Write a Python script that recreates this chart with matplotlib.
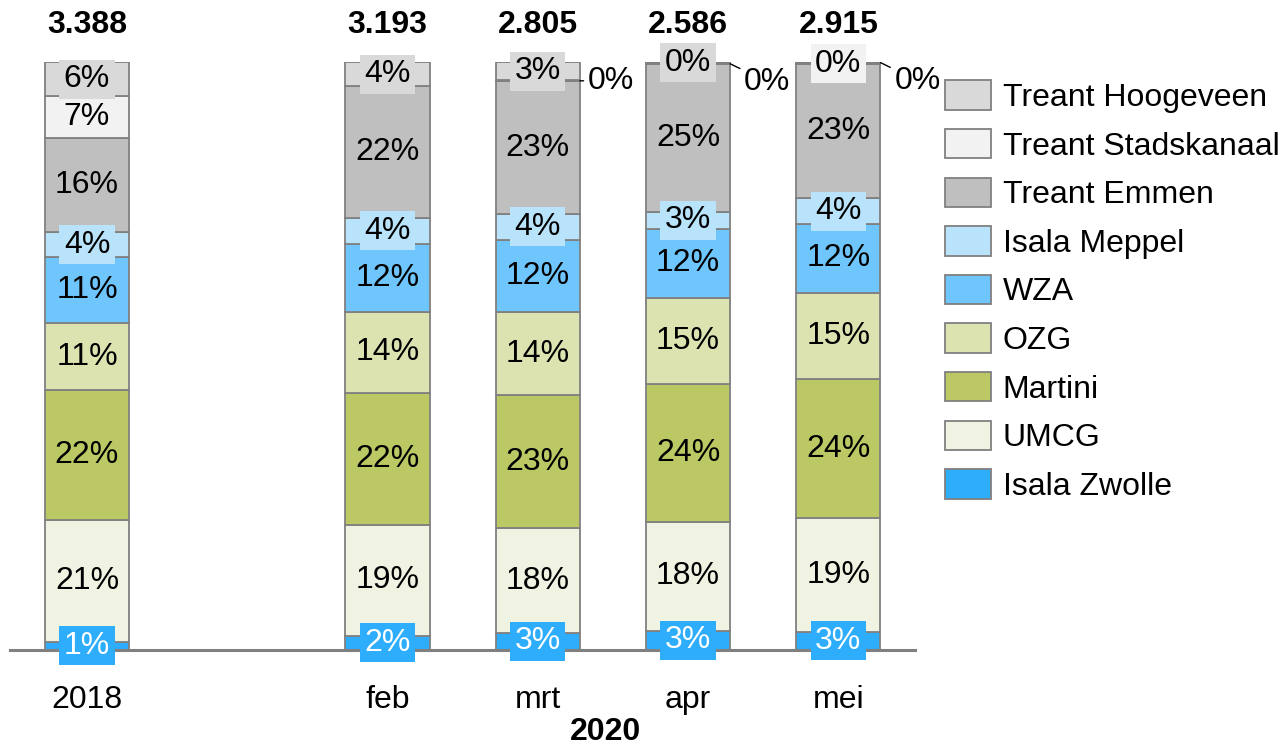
import matplotlib.pyplot as plt
import numpy as np

plt.rcParams['font.family'] = ['Liberation Sans', 'DejaVu Sans']

# data, bottom to top (percent of total per bar)
categories = ['2018', 'feb', 'mrt', 'apr', 'mei']
positions = [0, 2, 3, 4, 5]
totals = [3388, 3193, 2805, 2586, 2915]

series_names = ['Isala Zwolle', 'UMCG', 'Martini', 'OZG', 'WZA',
                'Isala Meppel', 'Treant Emmen', 'Treant Stadskanaal',
                'Treant Hoogeveen']
isala_zwolle = [1.4, 2.4, 2.9, 3.3, 3.1]
umcg = [20.7, 18.9, 17.8, 18.5, 19.4]
martini = [22.1, 22.4, 22.6, 23.5, 23.6]
ozg = [11.4, 13.8, 14.1, 14.6, 14.7]
wza = [11.2, 11.6, 12.4, 11.7, 11.7]
isala_meppel = [4.3, 4.4, 4.3, 2.9, 4.4]
treant_emmen = [16.0, 22.4, 22.6, 25.1, 22.8]
treant_stadskanaal = [7.1, 0.0, 0.2, 0.2, 0.2]
treant_hoogeveen = [5.8, 4.1, 3.1, 0.2, 0.2]

colors = ['#2DADFB', '#F0F3E1', '#BBC863', '#DCE3B0', '#6FC6FD',
          '#B9E3FB', '#BFBFBF', '#F2F2F2', '#D9D9D9']
text_colors = ['white'] + ['black'] * 8

# labels drawn beside the bar with a leader line: bar index -> series index
outside = {2: 7, 3: 7, 4: 8}
outside_offset = {2: (31, 0), 3: (37, -18), 4: (37, -18)}

FS = 23

values = np.array([isala_zwolle, umcg, martini, ozg, wza, isala_meppel,
                   treant_emmen, treant_stadskanaal, treant_hoogeveen])
values = values / values.sum(axis=0) * 100

fig = plt.figure(figsize=(12.83, 7.47), dpi=100)
ax = fig.add_axes([10 / 1283, 97 / 747, 905 / 1283, 588 / 747])

width = 0.56
bottom = np.zeros(len(categories))
for s, name in enumerate(series_names):
    ax.bar(positions, values[s], width, bottom=bottom, color=colors[s],
           edgecolor='#808080', linewidth=1.3, label=name, zorder=2)
    for i, x in enumerate(positions):
        v = values[s][i]
        if v == 0:
            continue
        mid = bottom[i] + v / 2
        label = f'{round(v):.0f}%'
        if outside.get(i) == s:
            dx, dy = outside_offset[i]
            ax.annotate(label, xy=(x + width / 2, mid), xytext=(dx, dy),
                        textcoords='offset pixels', ha='center', va='center',
                        fontsize=FS, color='black',
                        arrowprops=dict(arrowstyle='-', color='black', lw=1,
                                        shrinkA=1, shrinkB=0),
                        annotation_clip=False, zorder=4)
        else:
            ax.text(x, mid, label, ha='center', va='center', fontsize=FS,
                    color=text_colors[s], zorder=4,
                    bbox=dict(boxstyle='square,pad=0.14', fc=colors[s], ec='none'))
    bottom += values[s]

for x, t in zip(positions, totals):
    ax.text(x, 106.3, f'{t:,}'.replace(',', '.'), ha='center', va='center',
            fontsize=FS, fontweight='bold')

ax.set_xlim(-0.512, 5.51)
ax.set_ylim(0, 100)
ax.set_xticks(positions)
ax.set_xticklabels(categories, fontsize=FS)
ax.tick_params(axis='x', length=0, pad=25)
ax.set_yticks([])
for side in ['top', 'right', 'left']:
    ax.spines[side].set_visible(False)
ax.spines['bottom'].set_color('#808080')
ax.spines['bottom'].set_linewidth(2.2)
ax.spines['bottom'].set_zorder(3)

ax.text(3.45, -0.139, '2020', transform=ax.get_xaxis_transform(),
        ha='center', va='center', fontsize=FS, fontweight='bold')

handles, labels = ax.get_legend_handles_labels()
fig.legend(handles[::-1], labels[::-1], loc='upper left',
           bbox_to_anchor=(939 / 1283, 1 - 74 / 747), frameon=False,
           fontsize=FS, handlelength=1.44, handleheight=1.04,
           handletextpad=0.35, labelspacing=0.5, borderaxespad=0,
           borderpad=0.2)

fig.savefig('out.png', dpi=100)
